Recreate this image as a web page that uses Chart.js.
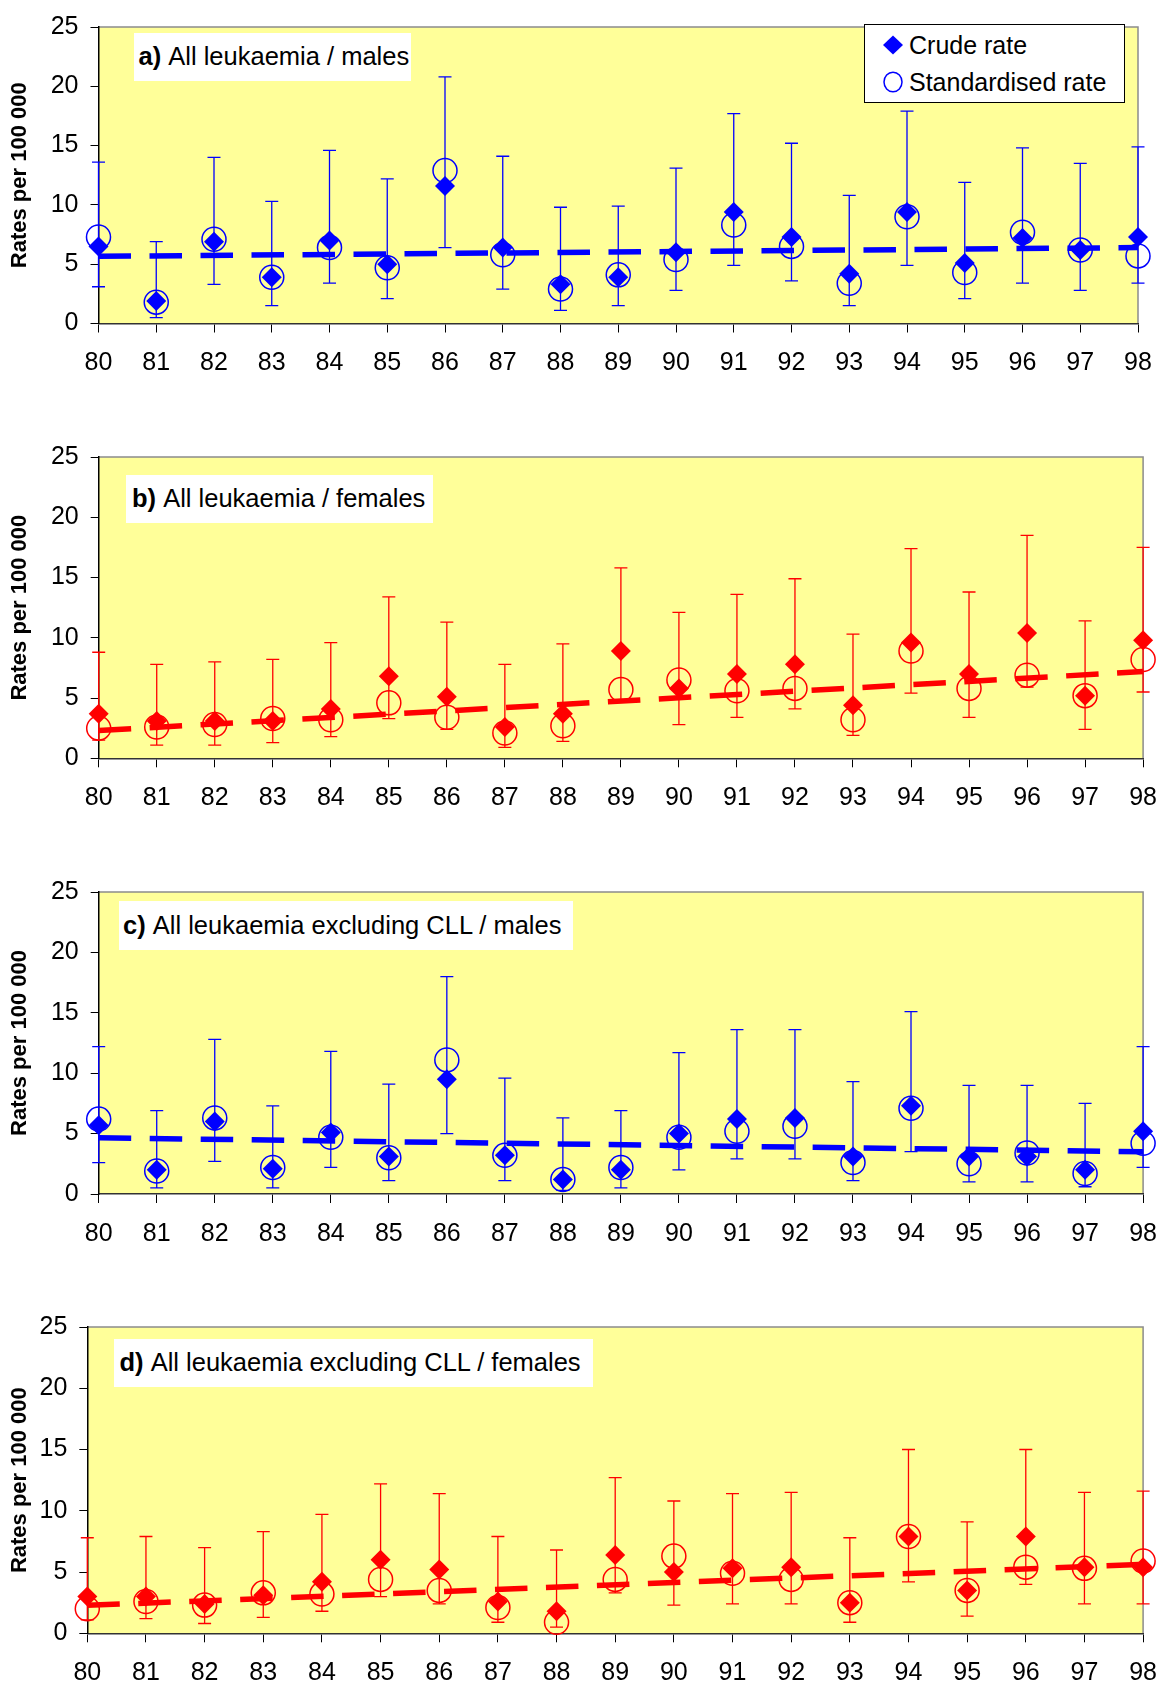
<!DOCTYPE html>
<html>
<head>
<meta charset="utf-8">
<title>Leukaemia rates 1980-1998</title>
<script src="https://cdn.jsdelivr.net/npm/chart.js@4/dist/chart.umd.min.js"></script>
<style>
  body { margin: 0; background: #fff; }
  #page { position: relative; width: 1173px; height: 1688px; overflow: hidden; font-family: "Liberation Sans", Arial, sans-serif; color: #000; }
  #page canvas { position: absolute; left: 0; }
  .panel-title { position: absolute; background: #fff; font-size: 25.5px; line-height: 1; display: flex; align-items: center; white-space: nowrap; z-index: 2; }
  #legend { position: absolute; left: 864px; top: 24px; width: 261px; height: 79px; box-sizing: border-box; border: 1.5px solid #000; background: #fff; z-index: 3; }
  #legend .row { position: absolute; left: 0; height: 30px; display: flex; align-items: center; font-size: 25px; white-space: nowrap; }
  #legend svg { width: 44px; height: 30px; flex: none; }
</style>
</head>
<body>
<div id="page">
  <div class="panel-title" style="left:134px; top:33px; width:272px; height:48px; padding-left:4.5px;"><b>a)</b>&nbsp;All leukaemia / males</div>
  <div class="panel-title" style="left:126px; top:475px; width:301px; height:48px; padding-left:6px;"><b>b)</b>&nbsp;All leukaemia / females</div>
  <div class="panel-title" style="left:119px; top:901px; width:450px; height:49px; padding-left:4px;"><b>c)</b>&nbsp;All leukaemia excluding CLL / males</div>
  <div class="panel-title" style="left:114px; top:1339px; width:473px; height:48px; padding-left:5.5px;"><b>d)</b>&nbsp;All leukaemia excluding CLL / females</div>
  <div id="legend">
    <div class="row" style="top:5px;">
      <svg viewBox="0 0 44 30"><polygon points="28,5.5 38,15 28,24.5 18,15" fill="#0000FF"/></svg>
      <span>Crude rate</span>
    </div>
    <div class="row" style="top:42px;">
      <svg viewBox="0 0 44 30"><ellipse cx="28" cy="15" rx="9" ry="9.8" fill="none" stroke="#0000FF" stroke-width="1.5"/></svg>
      <span>Standardised rate</span>
    </div>
  </div>
</div>
<script>
const years = ['80', '81', '82', '83', '84', '85', '86', '87', '88', '89', '90', '91', '92', '93', '94', '95', '96', '97', '98'];
const yTicks = [0, 5, 10, 15, 20, 25];

// a) all leukaemia, males
const crudeA = [6.5, 1.9, 6.9, 3.9, 7.0, 5.0, 11.6, 6.4, 3.3, 3.9, 6.0, 9.4, 7.3, 4.2, 9.4, 5.1, 7.2, 6.2, 7.3];
const stdA = [7.3, 1.8, 7.1, 3.9, 6.4, 4.7, 12.9, 5.8, 2.9, 4.1, 5.4, 8.3, 6.5, 3.4, 9.0, 4.3, 7.7, 6.2, 5.7];
const lowA = [3.1, 0.5, 3.3, 1.5, 3.4, 2.1, 6.4, 2.9, 1.1, 1.5, 2.8, 4.9, 3.6, 1.5, 4.9, 2.1, 3.4, 2.8, 3.4];
const highA = [13.6, 6.9, 14.0, 10.3, 14.6, 12.2, 20.8, 14.1, 9.8, 9.9, 13.1, 17.7, 15.2, 10.8, 17.9, 11.9, 14.8, 13.5, 14.9];
const trendA = [5.66, 6.4];

// b) all leukaemia, females
const crudeB = [3.7, 3.1, 3.1, 3.1, 4.1, 6.8, 5.1, 2.6, 3.7, 8.9, 5.8, 7.0, 7.8, 4.4, 9.6, 7.0, 10.4, 5.2, 9.8];
const stdB = [2.5, 2.6, 2.8, 3.3, 3.2, 4.6, 3.4, 2.1, 2.7, 5.7, 6.5, 5.6, 5.8, 3.2, 8.9, 5.8, 6.9, 5.2, 8.2];
const lowB = [1.5, 1.1, 1.1, 1.3, 1.8, 3.3, 2.4, 0.9, 1.4, 4.8, 2.8, 3.4, 4.1, 1.9, 5.4, 3.4, 5.9, 2.4, 5.5];
const highB = [8.8, 7.8, 8.0, 8.2, 9.6, 13.4, 11.3, 7.8, 9.5, 15.8, 12.1, 13.6, 14.9, 10.3, 17.4, 13.8, 18.5, 11.4, 17.5];
const trendB = [2.3, 7.2];

// c) excluding CLL, males
const crudeC = [5.7, 2.0, 6.0, 2.1, 5.1, 3.1, 9.5, 3.2, 1.2, 2.0, 5.0, 6.2, 6.3, 3.1, 7.3, 3.1, 3.1, 2.0, 5.2];
const stdC = [6.2, 1.9, 6.3, 2.2, 4.7, 3.0, 11.1, 3.2, 1.2, 2.2, 4.7, 5.2, 5.6, 2.6, 7.1, 2.5, 3.4, 1.7, 4.2];
const lowC = [2.6, 0.5, 2.7, 0.5, 2.2, 1.1, 5.0, 1.1, 0.3, 0.5, 2.0, 2.9, 2.9, 1.1, 3.5, 1.0, 1.0, 0.6, 2.2];
const highC = [12.2, 6.9, 12.8, 7.3, 11.8, 9.1, 18.0, 9.6, 6.3, 6.9, 11.7, 13.6, 13.6, 9.3, 15.1, 9.0, 9.0, 7.5, 12.2];
const trendC = [4.65, 3.5];

// d) excluding CLL, females
const crudeD = [3.0, 3.0, 2.4, 3.1, 4.2, 6.0, 5.2, 2.6, 1.8, 6.4, 5.0, 5.3, 5.4, 2.5, 7.9, 3.5, 7.9, 5.4, 5.4];
const stdD = [2.0, 2.6, 2.3, 3.3, 3.2, 4.4, 3.5, 2.1, 0.9, 4.4, 6.3, 4.9, 4.4, 2.5, 7.9, 3.5, 5.4, 5.3, 5.9];
const lowD = [1.1, 1.2, 0.8, 1.3, 1.8, 3.0, 2.4, 0.9, 0.5, 3.3, 2.3, 2.4, 2.4, 0.9, 4.2, 1.4, 4.0, 2.4, 2.4];
const highD = [7.8, 7.9, 7.0, 8.3, 9.7, 12.2, 11.4, 7.9, 6.8, 12.7, 10.8, 11.4, 11.5, 7.8, 15.0, 9.1, 15.0, 11.5, 11.6];
const trendD = [2.28, 5.63];

const BLUE = '#0000FF';
const RED = '#FF0000';

Chart.defaults.font.family = "'Liberation Sans', Arial, sans-serif";
Chart.defaults.color = '#000';

// yellow plot area with grey top/right frame
const plotBackground = {
    id: 'plotBackground',
    beforeDraw(chart) {
        const { ctx, chartArea: { left, top, right, bottom } } = chart;
        ctx.save();
        ctx.fillStyle = '#FFFF99';
        ctx.fillRect(left, top, right - left, bottom - top);
        ctx.strokeStyle = '#8c8c8c';
        ctx.lineWidth = 1.5;
        ctx.beginPath();
        ctx.moveTo(left, top);
        ctx.lineTo(right, top);
        ctx.lineTo(right, bottom);
        ctx.stroke();
        ctx.restore();
    }
};

// confidence intervals, drawn under the markers
const errorBars = {
    id: 'errorBars',
    beforeDatasetsDraw(chart, args, opts) {
        const { ctx, scales: { x, y } } = chart;
        ctx.save();
        ctx.strokeStyle = opts.color;
        ctx.lineWidth = 1.3;
        opts.low.forEach((lo, i) => {
            const px = x.getPixelForValue(i);
            const yLo = y.getPixelForValue(lo);
            const yHi = y.getPixelForValue(opts.high[i]);
            ctx.beginPath();
            ctx.moveTo(px, yHi);
            ctx.lineTo(px, yLo);
            ctx.moveTo(px - 6.5, yHi);
            ctx.lineTo(px + 6.5, yHi);
            ctx.moveTo(px - 6.5, yLo);
            ctx.lineTo(px + 6.5, yLo);
            ctx.stroke();
        });
        ctx.restore();
    }
};

const panels = [
    { top: 0, height: 430, left: 98.5, right: 1138, plotTop: 18, plotBottom: 323.5, color: BLUE, crude: crudeA, std: stdA, low: lowA, high: highA, trend: trendA },
    { top: 430, height: 435, left: 98.7, right: 1153.5, plotTop: 22.7, plotBottom: 328.3, color: RED, crude: crudeB, std: stdB, low: lowB, high: highB, trend: trendB },
    { top: 865, height: 435, left: 98.7, right: 1150, plotTop: 22.7, plotBottom: 329, color: BLUE, crude: crudeC, std: stdC, low: lowC, high: highC, trend: trendC },
    { top: 1300, height: 388, left: 87.3, right: 1156, plotTop: 22.7, plotBottom: 333.3, color: RED, crude: crudeD, std: stdD, low: lowD, high: highD, trend: trendD }
];

panels.forEach((p) => {
    const canvas = document.createElement('canvas');
    canvas.width = 1173;
    canvas.height = p.height;
    canvas.style.top = p.top + 'px';
    document.getElementById('page').appendChild(canvas);

    new Chart(canvas.getContext('2d'), {
        type: 'line',
        data: {
            labels: years,
            datasets: [
                {
                    label: 'Crude rate',
                    data: p.crude,
                    showLine: false,
                    pointStyle: 'rectRot',
                    pointRadius: 10,
                    pointBackgroundColor: p.color,
                    pointBorderColor: p.color,
                    pointBorderWidth: 0,
                    clip: false,
                    order: 0
                },
                {
                    label: 'Standardised rate',
                    data: p.std,
                    showLine: false,
                    pointStyle: 'circle',
                    pointRadius: 12,
                    pointBackgroundColor: 'rgba(0,0,0,0)',
                    pointBorderColor: p.color,
                    pointBorderWidth: 1.5,
                    clip: false,
                    order: 1
                },
                {
                    label: 'Trend',
                    data: [{ x: years[0], y: p.trend[0] }, { x: years[years.length - 1], y: p.trend[1] }],
                    borderColor: p.color,
                    borderWidth: 5.5,
                    borderDash: [32.5, 18.5],
                    borderCapStyle: 'butt',
                    pointRadius: 0,
                    fill: false,
                    clip: false,
                    order: 2
                }
            ]
        },
        options: {
            responsive: false,
            animation: false,
            events: [],
            layout: { padding: { left: 0, top: p.plotTop, right: 1173 - p.right, bottom: 0 } },
            scales: {
                x: {
                    type: 'category',
                    offset: false,
                    grid: { display: true, drawOnChartArea: false, offset: false, tickLength: 9, color: '#000', lineWidth: 1 },
                    border: { display: true, color: '#333', width: 1.5 },
                    ticks: { autoSkip: false, maxRotation: 0, padding: 16, font: { size: 25 } },
                    afterFit: (scale) => { scale.height = p.height - p.plotBottom; }
                },
                y: {
                    min: 0,
                    max: 25,
                    afterBuildTicks: (scale) => { scale.ticks = yTicks.map((v) => ({ value: v })); },
                    grid: { display: true, drawOnChartArea: false, tickLength: 8, color: '#000', lineWidth: 1 },
                    border: { display: true, color: '#000', width: 1.5 },
                    ticks: { padding: 12, font: { size: 25 } },
                    title: {
                        display: true,
                        text: 'Rates per 100 000',
                        font: { size: 22, weight: 'bold' },
                        padding: { top: 7, bottom: 0 }
                    },
                    afterFit: (scale) => { scale.width = p.left; }
                }
            },
            plugins: {
                legend: { display: false },
                tooltip: { enabled: false },
                errorBars: { color: p.color, low: p.low, high: p.high }
            }
        },
        plugins: [plotBackground, errorBars]
    });
});
</script>
</body>
</html>
